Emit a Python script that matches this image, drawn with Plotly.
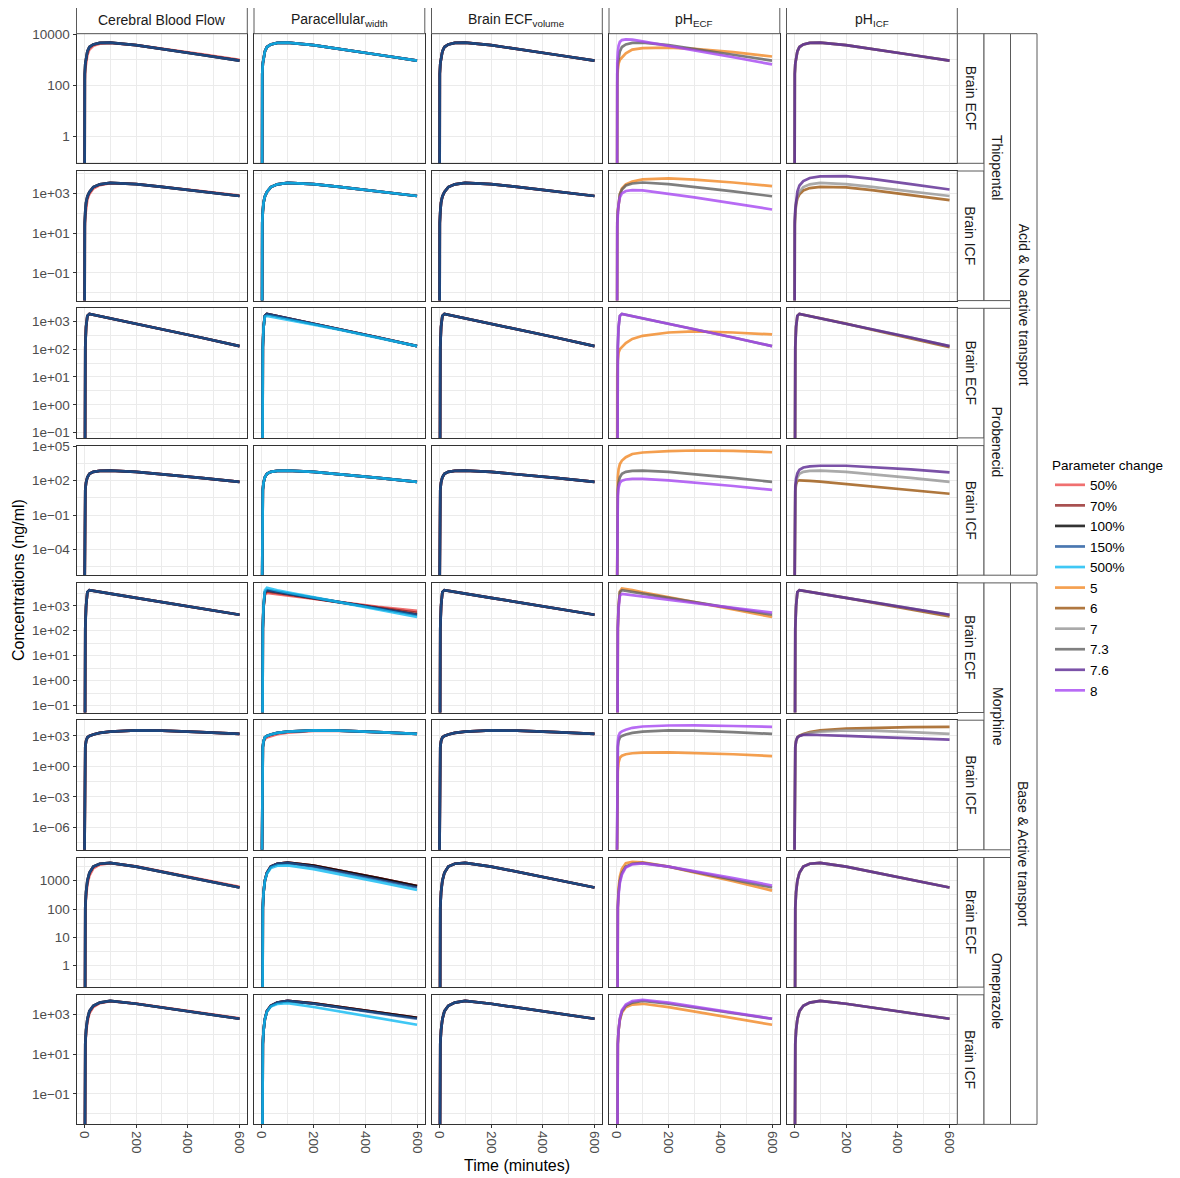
import plotly.graph_objects as go

# ---------------- data ----------------
TIME = [0, 1, 2, 4, 7, 12, 20, 35, 60, 100, 200, 300, 450, 600]

# Thiopental, Brain ECF
thio_ecf = [1e-12, 89, 280, 710, 1320, 2140, 3160, 3980, 4570, 4680, 3720, 2690, 1580, 930]
thio_ecf_cbf50 = [1e-12, 50, 160, 450, 930, 1580, 2510, 3550, 4270, 4570, 3760, 2750, 1660, 990]
thio_ecf_ph8 = [1e-12, 200, 790, 2000, 3550, 5010, 5890, 6310, 6170, 5250, 3550, 2340, 1260, 660]
thio_ecf_ph5 = [1e-12, 32, 126, 400, 710, 1000, 1260, 1780, 2510, 2880, 3020, 2690, 2000, 1350]
# Thiopental, Brain ICF
thio_icf = [1e-12, 10, 32, 126, 355, 710, 1200, 2090, 2880, 3390, 2950, 2140, 1260, 740]
thio_icf_cbf50 = [1e-12, 6.3, 20, 79, 224, 500, 950, 1780, 2630, 3310, 2990, 2200, 1310, 780]
thio_icf_ph5 = [1e-12, 10, 32, 126, 400, 890, 1780, 2820, 3980, 5130, 5750, 5010, 3550, 2340]
thio_icf_ph73 = [1e-12, 10, 32, 126, 400, 890, 1580, 2510, 3160, 3550, 2950, 2140, 1260, 720]
thio_icf_ph8 = [1e-12, 6.3, 20, 79, 280, 630, 1000, 1320, 1480, 1410, 955, 630, 316, 155]
thio_icf_ph76 = [1e-12, 12.6, 40, 158, 500, 1260, 2510, 4170, 6030, 7240, 7410, 5370, 2950, 1580]
thio_icf_ph6 = [1e-12, 7.9, 25, 100, 280, 560, 890, 1410, 1860, 2140, 2000, 1480, 850, 457]
# Probenecid, Brain ECF
prob_ecf = [1e-12, 0.5, 10, 120, 630, 1580, 1860, 1740, 1550, 1290, 830, 525, 263, 129]
prob_ecf_para500 = [1e-12, 0.5, 10, 120, 630, 1500, 1580, 1480, 1320, 1120, 760, 500, 257, 129]
prob_ecf_ph5 = [1e-12, 3.2, 12.6, 40, 76, 100, 120, 166, 234, 302, 398, 437, 398, 339]
prob_ecf_ph6 = [1e-12, 0.5, 10, 120, 630, 1580, 1860, 1740, 1550, 1290, 830, 500, 245, 117]
# Probenecid, Brain ICF
prob_icf = [1e-12, 0.032, 1.0, 15.8, 71, 200, 400, 590, 710, 760, 575, 372, 178, 79]
prob_icf_ph5 = [1e-12, 0.32, 10, 200, 1000, 2820, 5620, 11200, 21400, 28800, 37200, 42700, 39800, 30200]
prob_icf_ph8 = [1e-12, 0.01, 0.32, 5.0, 25, 63, 100, 126, 141, 145, 107, 69, 34, 15.8]
prob_icf_ph76 = [1e-12, 0.063, 2.0, 32, 158, 450, 890, 1410, 1780, 2000, 2000, 1580, 955, 525]
prob_icf_ph6 = [1e-12, 0.025, 0.79, 12.6, 50, 93, 107, 105, 95, 81, 51, 32, 15.1, 7.2]
# Morphine, Brain ECF
morph_ecf = [1e-12, 2.0, 20, 126, 1000, 3550, 4270, 3980, 3630, 3090, 2090, 1410, 794, 437]
morph_ecf_para50 = [1e-12, 2.0, 20, 126, 890, 2820, 3310, 3160, 2950, 2630, 1910, 1380, 912, 631]
morph_ecf_para70 = [1e-12, 2.0, 20, 126, 950, 3160, 3800, 3630, 3310, 2880, 2000, 1380, 851, 525]
morph_ecf_para500 = [1e-12, 2.0, 20, 126, 1120, 4170, 5250, 4790, 4170, 3470, 2190, 1380, 708, 363]
morph_ecf_ph5 = [1e-12, 2.0, 20, 126, 1000, 3800, 5010, 4790, 4270, 3470, 2240, 1410, 724, 355]
morph_ecf_ph8 = [1e-12, 2.0, 20, 126, 794, 2510, 3020, 2880, 2690, 2400, 1740, 1260, 832, 537]
morph_ecf_ph6 = [1e-12, 2.0, 20, 126, 1000, 3550, 4270, 3980, 3630, 3090, 2090, 1350, 724, 380]
# Morphine, Brain ICF
morph_icf = [1e-12, 0.01, 3.16, 79, 316, 710, 1000, 1410, 2000, 2630, 3550, 3310, 2400, 1580]
morph_icf_para50 = [1e-12, 0.01, 3.16, 79, 251, 500, 708, 1000, 1510, 2140, 3160, 3310, 2400, 1580]
morph_icf_ph8 = [1e-12, 0.032, 10, 251, 1000, 2000, 2820, 4170, 6310, 8510, 10700, 11000, 9550, 7760]
morph_icf_ph5 = [1e-12, 1e-5, 0.0032, 0.32, 2.5, 7.1, 11.2, 15.8, 20, 22.9, 24, 21.4, 15.8, 10.5]
morph_icf_ph6 = [1e-12, 0.01, 3.16, 79, 316, 710, 1050, 1580, 2400, 3550, 5250, 6310, 7240, 7760]
morph_icf_ph76 = [1e-12, 0.01, 3.16, 79, 316, 710, 1000, 1260, 1320, 1260, 1000, 794, 589, 427]
# Omeprazole, Brain ECF
omep_ecf = [1e-12, 3.2, 20, 112, 398, 1000, 1910, 3160, 3980, 4270, 3160, 2090, 1120, 575]
omep_ecf_cbf50 = [1e-12, 3.2, 20, 112, 282, 759, 1510, 2750, 3720, 4170, 3200, 2140, 1170, 610]
omep_ecf_para_top = [1e-12, 3.2, 20, 112, 398, 1000, 1910, 3160, 3980, 4370, 3390, 2290, 1230, 646]
omep_ecf_para500 = [1e-12, 3.2, 20, 112, 398, 1000, 1780, 2820, 3390, 3470, 2570, 1740, 912, 468]
omep_ecf_ph5 = [1e-12, 3.2, 20, 112, 562, 1410, 2630, 4170, 4680, 4470, 3160, 2000, 955, 447]
omep_ecf_ph8 = [1e-12, 3.2, 20, 112, 316, 832, 1660, 2950, 3800, 4070, 3160, 2190, 1230, 676]
# Omeprazole, Brain ICF
omep_icf = [1e-12, 0.32, 2.5, 32, 158, 562, 1410, 2630, 3800, 4570, 3310, 2140, 1150, 589]
omep_icf_cbf50 = [1e-12, 0.32, 2.5, 32, 112, 398, 1120, 2290, 3550, 4470, 3350, 2190, 1190, 615]
omep_icf_para_top = [1e-12, 0.32, 2.5, 32, 158, 562, 1410, 2630, 3800, 4570, 3470, 2290, 1260, 661]
omep_icf_para500 = [1e-12, 0.32, 2.5, 32, 158, 562, 1320, 2400, 3240, 3550, 2290, 1380, 646, 295]
omep_icf_ph8 = [1e-12, 0.32, 2.5, 32, 158, 631, 1580, 3020, 4470, 5250, 3800, 2400, 1200, 589]
omep_icf_ph5 = [1e-12, 0.32, 2.5, 32, 158, 501, 1200, 2240, 3020, 3310, 2240, 1350, 631, 295]

COLUMN_LABELS = ["Cerebral Blood Flow", "Paracellular<sub>width</sub>",
                 "Brain ECF<sub>volume</sub>", "pH<sub>ECF</sub>", "pH<sub>ICF</sub>"]
ROW_COMPARTMENTS = ["Brain ECF", "Brain ICF"] * 4
DRUG_LABELS = ["Thiopental", "Probenecid", "Morphine", "Omeprazole"]
GROUP_LABELS = ["Acid &amp; No active transport", "Base &amp; Active transport"]
LEVELS = ["50%", "70%", "100%", "150%", "500%", "5", "6", "7", "7.3", "7.6", "8"]
COL_LEVELS = [["50%", "70%", "100%", "150%"],
              ["50%", "70%", "100%", "150%", "500%"],
              ["50%", "70%", "100%", "150%"],
              ["5", "7.3", "8"],
              ["6", "7", "7.6"]]
COLORS = {"50%": "#EC4C4C", "70%": "#922424", "100%": "#000000", "150%": "#1D559C",
          "500%": "#10BAF2", "5": "#F28824", "6": "#9C5610", "7": "#959595",
          "7.3": "#606060", "7.6": "#5A2792", "8": "#A646F2"}

# panel table built from the named arrays: (row, col) -> level -> values
def pct(p50, p70, p100, p150, p500=None):
    d = {"50%": p50, "70%": p70, "100%": p100, "150%": p150}
    if p500 is not None:
        d["500%"] = p500
    return d

PANELS = {
    (0, 0): pct(thio_ecf_cbf50, thio_ecf, thio_ecf, thio_ecf),
    (0, 1): pct(thio_ecf, thio_ecf, thio_ecf, thio_ecf, thio_ecf),
    (0, 2): pct(thio_ecf, thio_ecf, thio_ecf, thio_ecf),
    (0, 3): {"5": thio_ecf_ph5, "7.3": thio_ecf, "8": thio_ecf_ph8},
    (0, 4): {"6": thio_ecf, "7": thio_ecf, "7.6": thio_ecf},
    (1, 0): pct(thio_icf_cbf50, thio_icf, thio_icf, thio_icf),
    (1, 1): pct(thio_icf, thio_icf, thio_icf, thio_icf, thio_icf),
    (1, 2): pct(thio_icf, thio_icf, thio_icf, thio_icf),
    (1, 3): {"5": thio_icf_ph5, "7.3": thio_icf_ph73, "8": thio_icf_ph8},
    (1, 4): {"6": thio_icf_ph6, "7": thio_icf, "7.6": thio_icf_ph76},
    (2, 0): pct(prob_ecf, prob_ecf, prob_ecf, prob_ecf),
    (2, 1): pct(prob_ecf, prob_ecf, prob_ecf, prob_ecf, prob_ecf_para500),
    (2, 2): pct(prob_ecf, prob_ecf, prob_ecf, prob_ecf),
    (2, 3): {"5": prob_ecf_ph5, "7.3": prob_ecf, "8": prob_ecf},
    (2, 4): {"6": prob_ecf_ph6, "7": prob_ecf, "7.6": prob_ecf},
    (3, 0): pct(prob_icf, prob_icf, prob_icf, prob_icf),
    (3, 1): pct(prob_icf, prob_icf, prob_icf, prob_icf, prob_icf),
    (3, 2): pct(prob_icf, prob_icf, prob_icf, prob_icf),
    (3, 3): {"5": prob_icf_ph5, "7.3": prob_icf, "8": prob_icf_ph8},
    (3, 4): {"6": prob_icf_ph6, "7": prob_icf, "7.6": prob_icf_ph76},
    (4, 0): pct(morph_ecf, morph_ecf, morph_ecf, morph_ecf),
    (4, 1): pct(morph_ecf_para50, morph_ecf_para70, morph_ecf, morph_ecf, morph_ecf_para500),
    (4, 2): pct(morph_ecf, morph_ecf, morph_ecf, morph_ecf),
    (4, 3): {"5": morph_ecf_ph5, "7.3": morph_ecf, "8": morph_ecf_ph8},
    (4, 4): {"6": morph_ecf_ph6, "7": morph_ecf, "7.6": morph_ecf},
    (5, 0): pct(morph_icf, morph_icf, morph_icf, morph_icf),
    (5, 1): pct(morph_icf_para50, morph_icf, morph_icf, morph_icf, morph_icf),
    (5, 2): pct(morph_icf, morph_icf, morph_icf, morph_icf),
    (5, 3): {"5": morph_icf_ph5, "7.3": morph_icf, "8": morph_icf_ph8},
    (5, 4): {"6": morph_icf_ph6, "7": morph_icf, "7.6": morph_icf_ph76},
    (6, 0): pct(omep_ecf_cbf50, omep_ecf, omep_ecf, omep_ecf),
    (6, 1): pct(omep_ecf_para_top, omep_ecf_para_top, omep_ecf_para_top, omep_ecf, omep_ecf_para500),
    (6, 2): pct(omep_ecf, omep_ecf, omep_ecf, omep_ecf),
    (6, 3): {"5": omep_ecf_ph5, "7.3": omep_ecf, "8": omep_ecf_ph8},
    (6, 4): {"6": omep_ecf, "7": omep_ecf, "7.6": omep_ecf},
    (7, 0): pct(omep_icf_cbf50, omep_icf, omep_icf, omep_icf),
    (7, 1): pct(omep_icf_para_top, omep_icf_para_top, omep_icf_para_top, omep_icf, omep_icf_para500),
    (7, 2): pct(omep_icf, omep_icf, omep_icf, omep_icf),
    (7, 3): {"5": omep_icf_ph5, "7.3": omep_icf, "8": omep_icf_ph8},
    (7, 4): {"6": omep_icf, "7": omep_icf, "7.6": omep_icf},
}

X_TICKS = [0, 200, 400, 600]
X_MINOR = [100, 300, 500]
Y_RANGES = [[-1.04, 4.02], [-2.40, 4.13], [-1.19, 3.47], [-6.25, 5.06],
            [-1.28, 3.92], [-8.20, 4.55], [-0.76, 3.82], [-2.53, 3.97]]
Y_TICKS = [[1, 100, 10000], [0.1, 10, 1000], [0.1, 1, 10, 100, 1000],
           [1e-4, 0.1, 100, 1e5], [0.1, 1, 10, 100, 1000], [1e-6, 1e-3, 1, 1000],
           [1, 10, 100, 1000], [0.1, 10, 1000]]
Y_TICKTEXT = [["1", "100", "10000"],
              ["1e\u221201", "1e+01", "1e+03"],
              ["1e\u221201", "1e+00", "1e+01", "1e+02", "1e+03"],
              ["1e\u221204", "1e\u221201", "1e+02", "1e+05"],
              ["1e\u221201", "1e+00", "1e+01", "1e+02", "1e+03"],
              ["1e\u221206", "1e\u221203", "1e+00", "1e+03"],
              ["1", "10", "100", "1000"],
              ["1e\u221201", "1e+01", "1e+03"]]
Y_MINOR = [[0.1, 10, 1000],
           [0.01, 1, 100, 10000],
           [0.316, 3.16, 31.6, 316],
           [3.16e-6, 3.16e-3, 3.16, 3162],
           [0.316, 3.16, 31.6, 316, 3162],
           [3.16e-8, 3.16e-5, 0.0316, 31.6, 31623],
           [0.316, 3.16, 31.6, 316, 3162],
           [0.01, 1, 100]]

# ---------------- layout geometry (page pixels) ----------------
PAGE_OFF = 8                      # default body margin of the html page
W, H = 1180 - PAGE_OFF, 1178 - PAGE_OFF
COL_LEFT = [76.5 + i * 177.5 for i in range(5)]
COL_W = 170.8
ROW_TOP = [33.7 + i * 137.3 for i in range(8)]
ROW_H = 129.6
FONT = "Liberation Sans, Arial, Helvetica, sans-serif"
TICK_FONT = dict(family=FONT, size=13.5, color="#4D4D4D")
STRIP_FONT = dict(family=FONT, size=14, color="#1A1A1A")
GRID = "#EBEBEB"
BORDER = "#333333"
STRIP_LINE = "#5A5A5A"

def fx(p):
    return (p - PAGE_OFF) / W

def fy(p):
    return 1 - (p - PAGE_OFF) / H

fig = go.Figure()
layout = {}

for r in range(8):
    for c in range(5):
        k = r * 5 + c + 1
        xa = "x" if k == 1 else f"x{k}"
        ya = "y" if k == 1 else f"y{k}"
        panel = PANELS[(r, c)]
        for lvl in COL_LEVELS[c]:
            fig.add_trace(go.Scatter(
                x=TIME, y=panel[lvl], mode="lines",
                line=dict(color=COLORS[lvl], width=2.7),
                opacity=0.8, xaxis=xa, yaxis=ya,
                showlegend=False, hoverinfo="skip"))
        x0 = COL_LEFT[c]
        y0 = ROW_TOP[r]
        bottom = (r == 7)
        left = (c == 0)
        layout["xaxis" if k == 1 else f"xaxis{k}"] = dict(
            domain=[fx(x0), fx(x0 + COL_W)], anchor=ya, automargin=False,
            range=[-30, 630], tickmode="array", tickvals=X_TICKS,
            ticktext=[str(v) for v in X_TICKS],
            showticklabels=bottom, ticks="outside" if bottom else "",
            ticklen=3, tickwidth=1, tickcolor=BORDER, tickangle=90,
            tickfont=TICK_FONT, showgrid=True, gridcolor=GRID, gridwidth=1.1,
            minor=dict(tickmode="array", tickvals=X_MINOR, showgrid=True,
                       gridcolor=GRID, gridwidth=0.55, ticks=""),
            showline=True, linecolor=BORDER, linewidth=1, mirror=True,
            zeroline=False, fixedrange=True)
        layout["yaxis" if k == 1 else f"yaxis{k}"] = dict(
            domain=[fy(y0 + ROW_H), fy(y0)], anchor=xa, type="log",
            automargin=False,
            range=Y_RANGES[r], tickmode="array", tickvals=Y_TICKS[r],
            ticktext=Y_TICKTEXT[r], showticklabels=left,
            ticks="outside" if left else "", ticklen=3, tickwidth=1,
            tickcolor=BORDER, tickfont=TICK_FONT, showgrid=True,
            gridcolor=GRID, gridwidth=1.1,
            minor=dict(tickmode="array", tickvals=Y_MINOR[r], showgrid=True,
                       gridcolor=GRID, gridwidth=0.55, ticks=""),
            showline=True, linecolor=BORDER, linewidth=1, mirror=True,
            zeroline=False, fixedrange=True)

# legend entries
for lvl in LEVELS:
    fig.add_trace(go.Scatter(x=[None], y=[None], mode="lines", name=lvl,
                             line=dict(color=COLORS[lvl], width=2.7),
                             opacity=0.8, xaxis="x", yaxis="y",
                             showlegend=True, hoverinfo="skip"))

shapes = []
annotations = []

def strip(xl, xr, yt, yb, text, angle=0):
    shapes.append(dict(type="rect", xref="paper", yref="paper",
                       x0=fx(xl), x1=fx(xr), y0=fy(yb), y1=fy(yt),
                       fillcolor="white", line=dict(color=STRIP_LINE, width=1),
                       layer="above"))
    annotations.append(dict(xref="paper", yref="paper",
                            x=fx((xl + xr) / 2), y=fy((yt + yb) / 2),
                            text=text, showarrow=False, textangle=angle,
                            font=STRIP_FONT, xanchor="center", yanchor="middle"))

for c, lab in enumerate(COLUMN_LABELS):
    strip(COL_LEFT[c], COL_LEFT[c] + COL_W, 7, ROW_TOP[0], lab)

RX0 = COL_LEFT[4] + COL_W
for r in range(8):
    strip(RX0, RX0 + 26.7, ROW_TOP[r], ROW_TOP[r] + ROW_H, ROW_COMPARTMENTS[r], 90)
for i, lab in enumerate(DRUG_LABELS):
    strip(RX0 + 26.7, RX0 + 53.2, ROW_TOP[2 * i], ROW_TOP[2 * i + 1] + ROW_H, lab, 90)
for i, lab in enumerate(GROUP_LABELS):
    strip(RX0 + 53.2, RX0 + 79.7, ROW_TOP[4 * i], ROW_TOP[4 * i + 3] + ROW_H, lab, 90)

annotations.append(dict(xref="paper", yref="paper", x=fx(18), y=fy(580),
                        text="Concentrations (ng/ml)", showarrow=False,
                        textangle=-90, font=dict(family=FONT, size=16, color="black"),
                        xanchor="center", yanchor="middle"))
annotations.append(dict(xref="paper", yref="paper", x=fx(517), y=fy(1165),
                        text="Time (minutes)", showarrow=False,
                        font=dict(family=FONT, size=16, color="black"),
                        xanchor="center", yanchor="middle"))

fig.update_layout(
    width=W, height=H, margin=dict(l=0, r=0, t=0, b=0, autoexpand=False),
    paper_bgcolor="white", plot_bgcolor="white",
    font=dict(family=FONT, size=13, color="#1A1A1A"),
    showlegend=True, hovermode=False,
    legend=dict(x=fx(1050), y=fy(452), xanchor="left", yanchor="top",
                title=dict(text="Parameter change",
                           font=dict(family=FONT, size=13.5, color="black")),
                font=dict(family=FONT, size=13.5, color="black"),
                bgcolor="rgba(0,0,0,0)", itemwidth=30, tracegroupgap=0),
    shapes=shapes, annotations=annotations,
    **layout)

fig.write_html("out.html")
